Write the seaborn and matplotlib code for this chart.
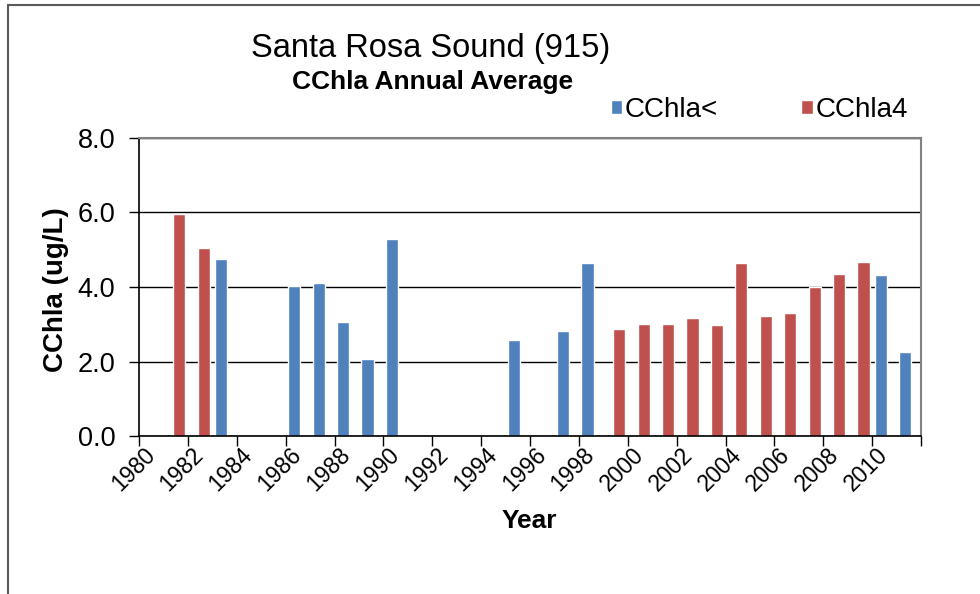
import numpy as np
import pandas as pd
import seaborn as sns
from matplotlib import pyplot as plt
from matplotlib.lines import Line2D

sns.set_style("ticks")
plt.rcParams['font.family'] = ['Liberation Sans', 'DejaVu Sans']
plt.rcParams.update({'text.color': 'black', 'axes.labelcolor': 'black',
                     'xtick.color': 'black', 'ytick.color': 'black'})

# data
years = list(range(1980, 2012))
blue_years = [1983, 1986, 1987, 1988, 1989, 1990, 1995, 1997, 1998, 2010, 2011]
blue_vals = [4.74, 4.04, 4.12, 3.05, 2.06, 5.29, 2.57, 2.81, 4.64, 4.32, 2.26]
red_years = [1981, 1982, 1999, 2000, 2001, 2002, 2003, 2004, 2005, 2006, 2007, 2008, 2009]
red_vals = [5.95, 5.05, 2.88, 3.02, 3.02, 3.16, 2.99, 4.64, 3.22, 3.29, 4.01, 4.36, 4.67]
series = ['CChla<', 'CChla4']
colors = ['#4F81BD', '#C0504D']
y_ticks = [0, 2, 4, 6, 8]

df = pd.concat([
    pd.DataFrame({'Year': blue_years, 'CChla': blue_vals, 'Series': series[0]}),
    pd.DataFrame({'Year': red_years, 'CChla': red_vals, 'Series': series[1]}),
])

W, H = 980, 594
fig = plt.figure(figsize=(W / 100, H / 100), dpi=100)
ax = fig.add_axes([139 / W, 1 - 436 / H, (921 - 139) / W, (436 - 138) / H])

sns.barplot(data=df, x='Year', y='CChla', hue='Series', order=years,
            hue_order=series, palette=colors, dodge=False, width=0.5,
            saturation=1, ax=ax)

# Excel-style overlap: first series sits a bit left, second a bit right
for cont, shift in zip(ax.containers, [-0.15, 0.15]):
    for bar in cont:
        bar.set_x(bar.get_x() + shift)

ax.set_xlim(-0.5, len(years) - 0.5)
ax.set_ylim(0, 8)
ax.set_yticks(y_ticks, [f'{v:.1f}' for v in y_ticks])
ax.grid(axis='y', color='black', linewidth=1)
ax.set_axisbelow(True)

# tick marks between every pair of years, labels on even years
ax.set_xticks(np.arange(-0.5, len(years), 2), [])
ax.set_xticks(np.arange(0, len(years), 2), [str(y) for y in years[::2]], minor=True)
ax.tick_params(axis='x', which='major', length=7, width=1, color='black')
ax.tick_params(axis='x', which='minor', length=0, labelsize=16.5, pad=11)
for lab in ax.get_xticklabels(minor=True):
    lab.set_rotation(45)
    lab.set_ha('right')
    lab.set_va('center')
    lab.set_rotation_mode('anchor')
ax.tick_params(axis='y', length=7, width=1, color='black', labelsize=19.5, pad=10)

for side in ['left', 'bottom']:
    ax.spines[side].set_color('black')
    ax.spines[side].set_linewidth(1.2)
for side in ['top', 'right']:
    ax.spines[side].set_visible(True)
    ax.spines[side].set_color('#808080')
    ax.spines[side].set_linewidth(1.5)

ax.set_xlabel('Year', fontsize=19, fontweight='bold')
ax.xaxis.set_label_coords(0.499, -0.245)
ax.set_ylabel('CChla (ug/L)', fontsize=20, fontweight='bold')
ax.yaxis.set_label_coords(-0.09, 0.49)

fig.text(431 / W, 1 - 48 / H, 'Santa Rosa Sound (915)', ha='center', va='center', fontsize=23.5)
fig.text(433 / W, 1 - 82 / H, 'CChla Annual Average', ha='center', va='center',
         fontsize=19, fontweight='bold')

sns.move_legend(ax, 'center left', bbox_to_anchor=(611 / W, 1 - 110 / H),
                bbox_transform=fig.transFigure, ncol=2, frameon=False, title=None,
                fontsize=20, handlelength=0.4, handleheight=0.4, handletextpad=0.1,
                columnspacing=3.0, borderpad=0, borderaxespad=0)

# outer chart border (left and top edges visible)
fig.add_artist(Line2D([7.5 / W, 7.5 / W], [0, 1 - 5 / H], transform=fig.transFigure,
                      color='#595959', linewidth=1.5))
fig.add_artist(Line2D([7.5 / W, 1], [1 - 5 / H, 1 - 5 / H], transform=fig.transFigure,
                      color='#595959', linewidth=1.5))

fig.savefig('out.png', dpi=100, facecolor='white')
